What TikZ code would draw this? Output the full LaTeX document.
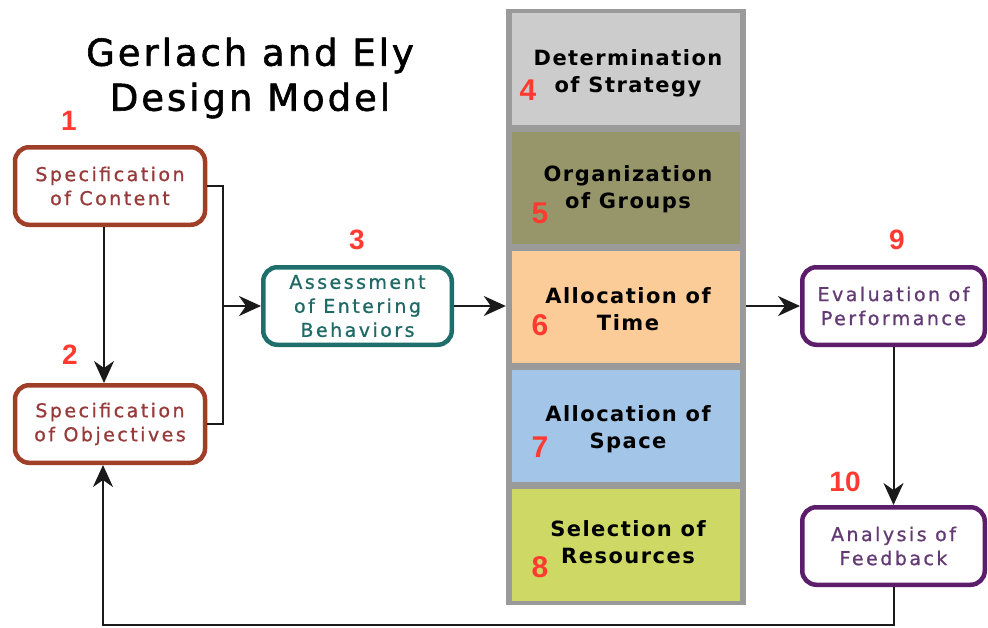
\documentclass[tikz,border=0pt]{standalone}
\usepackage{fontspec}
\setmainfont{DejaVu Sans}
\newfontfamily\titlefont[LetterSpace=8,FakeBold=1.6]{DejaVu Sans}
\newfontfamily\boxfont[LetterSpace=13,FakeBold=0.9]{DejaVu Sans}
\newfontfamily\cellfont[LetterSpace=7]{DejaVu Sans}
\newfontfamily\numfont{Liberation Sans}
\usetikzlibrary{arrows.meta,calc}
\definecolor{brownB}{HTML}{A03F28}
\definecolor{brownT}{HTML}{983A3A}
\definecolor{tealB}{HTML}{1E6F6B}
\definecolor{tealT}{HTML}{1F6A66}
\definecolor{purpB}{HTML}{5C1D6B}
\definecolor{purpT}{HTML}{643A74}
\definecolor{numred}{HTML}{FF3A30}
\definecolor{colgray}{HTML}{9A9A9A}
\definecolor{cfour}{HTML}{CCCCCC}
\definecolor{cfive}{HTML}{97966A}
\definecolor{csix}{HTML}{FBCB98}
\definecolor{cseven}{HTML}{A3C6E8}
\definecolor{ceight}{HTML}{CDD964}
\definecolor{lineblk}{HTML}{1A1A1A}
\tikzset{
  box/.style={draw=#1, line width=4.5pt, rounded corners=14pt, fill=white,
    minimum width=190pt, minimum height=77.5pt, align=center, inner sep=0pt,
    font=\boxfont\fontsize{19}{24}\selectfont},
  cell/.style={fill=#1, minimum width=228pt, minimum height=112pt, inner sep=0pt},
  celltext/.style={align=center, font=\cellfont\bfseries\fontsize{21}{27}\selectfont, text=black, inner sep=0pt},
  num/.style={font=\numfont\bfseries\fontsize{28}{28}\selectfont, text=numred, inner sep=0pt},
  bignum/.style={num, font=\numfont\bfseries\fontsize{30}{30}\selectfont},
  arr/.style={-{Stealth[length=22pt,width=20pt,inset=7pt]}, line width=2pt, draw=lineblk},
  conn/.style={line width=2pt, draw=lineblk}
}
\begin{document}
\begin{tikzpicture}[x=1pt,y=-1pt]
\useasboundingbox (0,0) rectangle (988,627);
% title
\node[font=\titlefont\fontsize{37}{45}\selectfont, align=center] (title) at (250,78) {Gerlach and Ely\\Design Model};
% left boxes
\node[box=brownB, text=brownT] (b1) at (110,186) {Specification\\of Content};
\node[box=brownB, text=brownT] (b2) at (110,424) {Specification\\of Objectives};
\node[box=tealB, text=tealT, minimum width=188.5pt] (b3) at (357.5,306) {Assessment\\of Entering\\Behaviors};
\node[box=purpB, text=purpT, minimum width=182.5pt] (b9) at (893.5,306) {Evaluation of\\Performance};
\node[box=purpB, text=purpT, minimum width=182.5pt] (b10) at (893.5,546) {Analysis of\\Feedback};
% column
\node[fill=colgray, minimum width=240pt, minimum height=596pt, inner sep=0pt] (col) at (626,306.5) {};
\node[cell=cfour] (c4) at (626,69) {};
\node[cell=cfive] (c5) at (626,188) {};
\node[cell=csix] (c6) at (626,307) {};
\node[cell=cseven] (c7) at (626,426) {};
\node[cell=ceight] (c8) at (626,545) {};
\node[celltext] (t4) at (628,73) {Determination\\of Strategy};
\node[celltext] (t5) at (628,189) {Organization\\of Groups};
\node[celltext] (t6) at (628,309) {Allocation of\\Time};
\node[celltext] (t7) at (628,429) {Allocation of\\Space};
\node[celltext] (t8) at (628,542) {Selection of\\Resources};
% numbers
\node[num] (n1) at (69,121) {1};
\node[num] (n2) at (70,355) {2};
\node[num] (n3) at (357,240) {3};
\node[bignum] (n4) at (528,90) {4};
\node[bignum] (n5) at (540,213) {5};
\node[bignum] (n6) at (540,325) {6};
\node[bignum] (n7) at (540,447) {7};
\node[bignum] (n8) at (540,567) {8};
\node[num] (n9) at (897,240) {9};
\node[num] (n10) at (845,482) {10};
% connectors
\draw[arr] ($(b1.south)+(-6,0)$) -- ($(b2.north)+(-6,0)$);
\coordinate (j) at (223,306);
\draw[conn] (b1.east) -- (b1.east -| j) -- (b2.east -| j) -- (b2.east);
\draw[arr] (j) -- (b3.west);
\draw[arr] (b3.east) -- (b3.east -| col.west);
\draw[arr] (b3.east -| col.east) -- (b9.west);
\draw[arr] (b9.south) -- (b10.north);
\coordinate (fb) at (0,625);
\draw[arr] (b10.south) -- (b10.south |- fb) -- ($(b2.south |- fb)+(-7,0)$) -- ($(b2.south)+(-7,0)$);
\end{tikzpicture}
\end{document}
